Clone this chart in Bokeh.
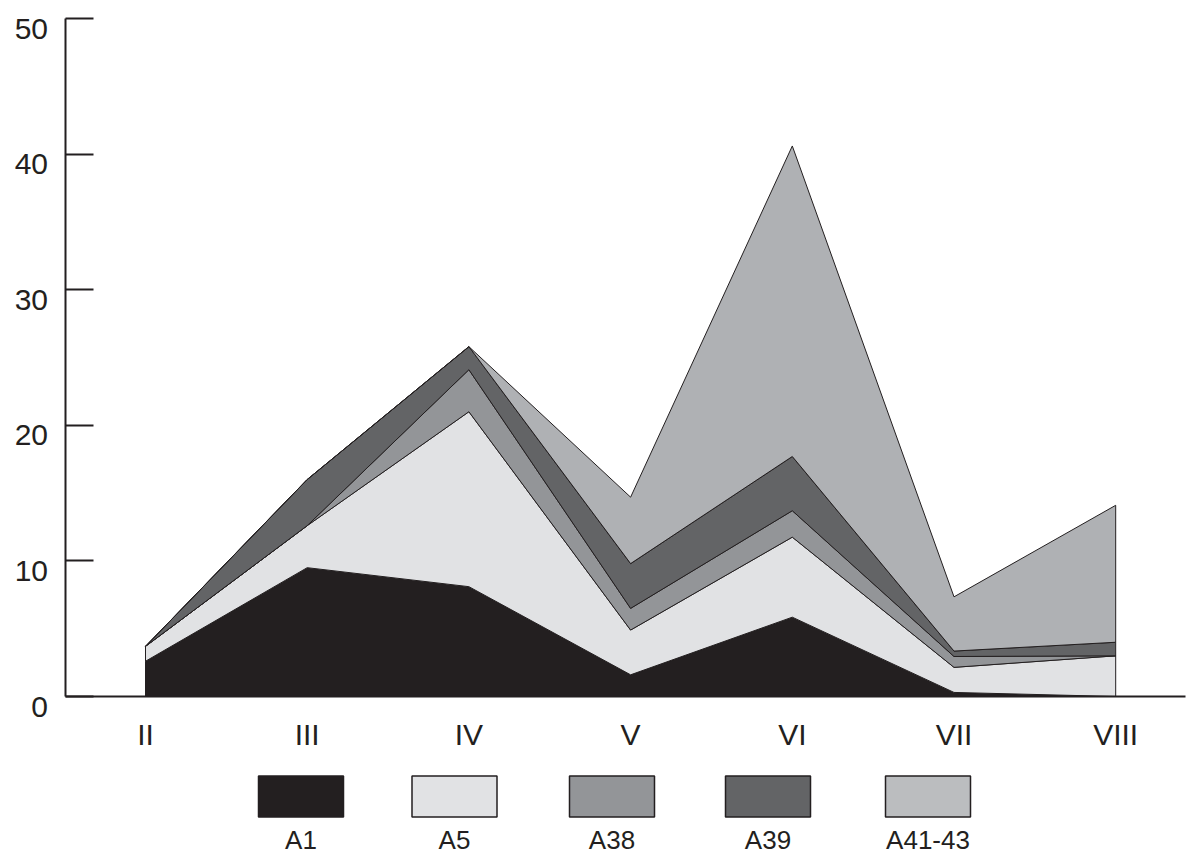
import numpy as np
from bokeh.plotting import figure
from bokeh.models import Range1d, FixedTicker, LinearAxis, Label
from bokeh.embed import file_html
from bokeh.resources import INLINE

# ---- data ----
categories = ["II", "III", "IV", "V", "VI", "VII", "VIII"]
series_names = ["A1", "A5", "A38", "A39", "A41-43"]
a1 = [2.6, 9.5, 8.1, 1.6, 5.85, 0.3, 0.0]
a5 = [1.1, 3.1, 12.9, 3.3, 5.9, 1.85, 3.0]
a38 = [0.0, 0.0, 3.1, 1.6, 1.95, 0.8, 0.0]
a39 = [0.0, 3.4, 1.7, 3.3, 4.0, 0.4, 1.0]
a41_43 = [0.0, 0.0, 0.0, 4.9, 22.9, 4.0, 10.1]
y_ticks = [0, 10, 20, 30, 40, 50]

# ---- style / layout (pixels) ----
INK = "#231f20"
colors = ["#231f20", "#e1e2e4", "#939598", "#636466", "#afb1b4"]
legend_colors = ["#231f20", "#e1e2e4", "#939598", "#636466", "#bbbdbf"]
FONT = "Liberation Sans"

W, H = 1191, 855
X0_PX, DX_PX = 145.0, 161.7          # pixel of first category, spacing
AXIS_L_PX, AXIS_R_PX = 65.0, 1185.0
Y0_PX, PXU = 696.0, 13.56            # pixel of y=0, pixels per unit


def xd(px):
    return (px - X0_PX) / DX_PX


def yd(py):
    return (Y0_PX - py) / PXU


p = figure(width=W, height=H, output_backend="svg", toolbar_location=None,
           x_range=Range1d(xd(0), xd(W)), y_range=Range1d(yd(H), yd(0)),
           x_axis_type=None, y_axis_type=None,
           min_border_left=0, min_border_right=0,
           min_border_top=0, min_border_bottom=0)
p.outline_line_color = None
p.background_fill_color = "white"
p.border_fill_color = "white"

# stacked areas
layers = np.vstack([a1, a5, a38, a39, a41_43])
tops = np.cumsum(layers, axis=0)
x = np.arange(len(categories), dtype=float)
for i, name in enumerate(series_names):
    upper = tops[i]
    lower = tops[i - 1] if i > 0 else np.zeros_like(upper)
    xs = np.concatenate([x, x[::-1]])
    ys = np.concatenate([upper, lower[::-1]])
    p.patch(xs, ys, fill_color=colors[i], line_color=INK, line_width=1)

# y axis (ticks inward, labels top-aligned as Labels)
yaxis = LinearAxis(ticker=FixedTicker(ticks=y_ticks), bounds=(0, 50),
                   fixed_location=xd(AXIS_L_PX),
                   major_tick_in=28, major_tick_out=0,
                   minor_tick_in=0, minor_tick_out=0,
                   axis_line_width=2, axis_line_color=INK,
                   major_tick_line_width=2, major_tick_line_color=INK,
                   major_label_overrides={t: "" for t in y_ticks})
p.add_layout(yaxis, "left")
for t in y_ticks:
    p.add_layout(Label(x=xd(AXIS_L_PX), y=t, text=str(t), text_align="right",
                       text_baseline="top", x_offset=-17.5, y_offset=0,
                       text_font=FONT, text_font_size="30px", text_color=INK))

# x axis at y=0
xaxis = LinearAxis(ticker=FixedTicker(ticks=list(range(len(categories)))),
                   fixed_location=0, bounds=(xd(AXIS_L_PX), xd(AXIS_R_PX)),
                   major_label_overrides={i: c for i, c in enumerate(categories)},
                   major_tick_in=0, major_tick_out=0,
                   minor_tick_in=0, minor_tick_out=0,
                   axis_line_width=2, axis_line_color=INK,
                   major_label_standoff=21,
                   major_label_text_font=FONT, major_label_text_font_size="30px",
                   major_label_text_color=INK)
p.add_layout(xaxis, "below")

# legend (boxes with labels underneath)
leg_px = [300.5, 454.0, 611.5, 767.5, 927.5]
leg_x = [xd(v) for v in leg_px]
leg_y = yd(796)
p.rect(x=leg_x, y=[leg_y] * len(leg_x), width=85, height=41,
       width_units="screen", height_units="screen",
       fill_color=legend_colors, line_color=INK, line_width=1.5)
for lx, name in zip(leg_x, series_names):
    p.add_layout(Label(x=lx, y=yd(824), text=name, text_align="center",
                       text_baseline="top",
                       text_font=FONT, text_font_size="26px", text_color=INK))

open("out.html", "w").write(file_html(p, INLINE))
